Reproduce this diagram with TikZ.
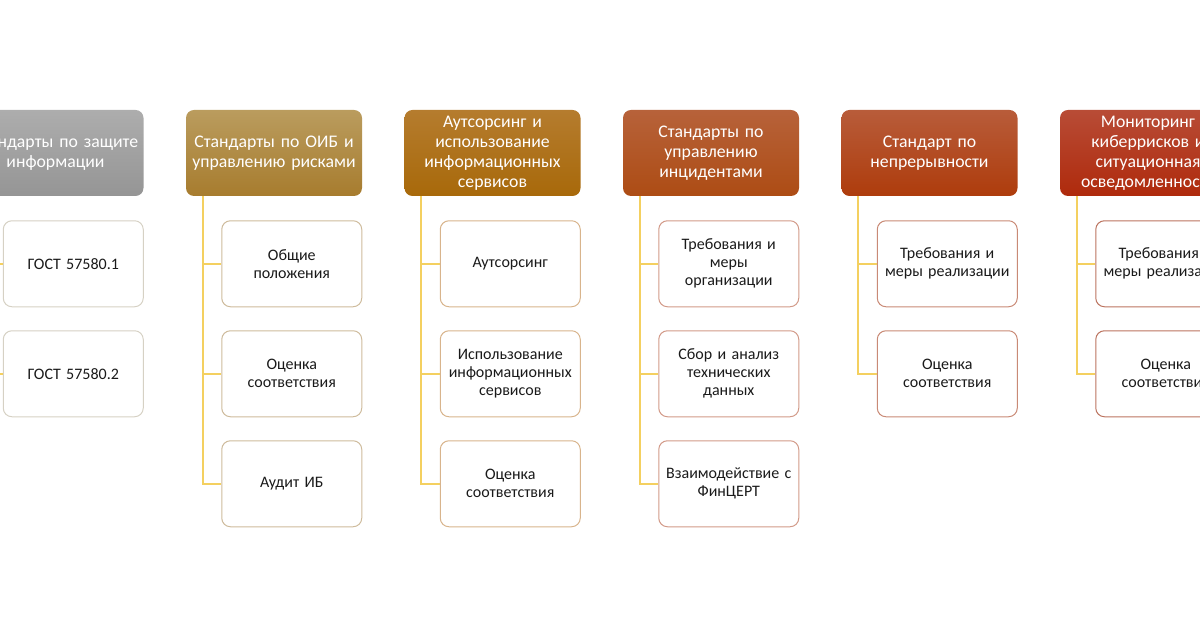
\documentclass[tikz,border=0pt]{standalone}
\usepackage{fontspec}
\setmainfont{Carlito}
\usetikzlibrary{positioning}
\definecolor{linkyellow}{HTML}{F4D060}
\definecolor{leaftext}{HTML}{1A1A1A}
\definecolor{grayTop}{HTML}{ADADAD}
\definecolor{grayBot}{HTML}{959595}
\definecolor{tanTop}{HTML}{BA9C5E}
\definecolor{tanBot}{HTML}{A77C2E}
\definecolor{ochreTop}{HTML}{B57C2E}
\definecolor{ochreBot}{HTML}{A8690A}
\definecolor{rustTop}{HTML}{B7623A}
\definecolor{rustBot}{HTML}{AD4C14}
\definecolor{brickTop}{HTML}{B85C3A}
\definecolor{brickBot}{HTML}{AE3C0C}
\definecolor{redTop}{HTML}{B84C36}
\definecolor{redBot}{HTML}{AF2A0C}
\definecolor{grayLine}{HTML}{D6D1C4}
\definecolor{tanLine}{HTML}{CEBB9C}
\definecolor{ochreLine}{HTML}{D8B48C}
\definecolor{rustLine}{HTML}{D29A88}
\definecolor{brickLine}{HTML}{C98A76}
\definecolor{redLine}{HTML}{BC7460}
\begin{document}
\begin{tikzpicture}[
  header/.style={rounded corners=6pt, minimum width=132pt, minimum height=64.5pt, text width=128pt, align=center, inner sep=1pt, text=white, font=\fontsize{13.3}{15}\selectfont},
  leaf/.style={draw=#1, fill=white, line width=0.75pt, rounded corners=6.5pt, minimum width=105pt, minimum height=64.5pt, text width=102pt, align=center, inner sep=1pt, text=leaftext, font=\fontsize{12}{13.5}\selectfont},
  link/.style={draw=linkyellow, line width=1.5pt},
]
\useasboundingbox (0,0) rectangle (900pt,472.5pt);
% headers
\node[header, top color=grayTop, bottom color=grayBot] (h1) at (41.625pt,357.75pt) {Стандарты по защите\\информации};
\node[header, top color=tanTop, bottom color=tanBot] (h2) at (205.5pt,357.75pt) {Стандарты по ОИБ и\\управлению рисками};
\node[header, top color=ochreTop, bottom color=ochreBot] (h3) at (369.375pt,357.75pt) {Аутсорсинг и\\использование\\информационных\\сервисов};
\node[header, top color=rustTop, bottom color=rustBot] (h4) at (533.25pt,357.75pt) {Стандарты по\\управлению\\инцидентами};
\node[header, top color=brickTop, bottom color=brickBot] (h5) at (697.125pt,357.75pt) {Стандарт по\\непрерывности};
\node[header, top color=redTop, bottom color=redBot] (h6) at (861pt,357.75pt) {Мониторинг\\киберрисков и\\ситуационная\\осведомленность};
% column 1
\node[leaf=grayLine, below left=18pt and 0pt of h1.south east] (c11) {ГОСТ 57580.1};
\node[leaf=grayLine, below=17.25pt of c11] (c12) {ГОСТ 57580.2};
\draw[link] ([xshift=12.75pt]h1.south west) |- (c11.west);
\draw[link] ([xshift=12.75pt]h1.south west) |- (c12.west);
% column 2
\node[leaf=tanLine, below left=18pt and 0pt of h2.south east] (c21) {Общие\\положения};
\node[leaf=tanLine, below=17.25pt of c21] (c22) {Оценка\\соответствия};
\node[leaf=tanLine, below=17.25pt of c22] (c23) {Аудит ИБ};
\draw[link] ([xshift=12.75pt]h2.south west) |- (c21.west);
\draw[link] ([xshift=12.75pt]h2.south west) |- (c22.west);
\draw[link] ([xshift=12.75pt]h2.south west) |- (c23.west);
% column 3
\node[leaf=ochreLine, below left=18pt and 0pt of h3.south east] (c31) {Аутсорсинг};
\node[leaf=ochreLine, below=17.25pt of c31] (c32) {Использование\\информационных\\сервисов};
\node[leaf=ochreLine, below=17.25pt of c32] (c33) {Оценка\\соответствия};
\draw[link] ([xshift=12.75pt]h3.south west) |- (c31.west);
\draw[link] ([xshift=12.75pt]h3.south west) |- (c32.west);
\draw[link] ([xshift=12.75pt]h3.south west) |- (c33.west);
% column 4
\node[leaf=rustLine, below left=18pt and 0pt of h4.south east] (c41) {Требования и\\меры\\организации};
\node[leaf=rustLine, below=17.25pt of c41] (c42) {Сбор и анализ\\технических\\данных};
\node[leaf=rustLine, below=17.25pt of c42] (c43) {Взаимодействие с\\ФинЦЕРТ};
\draw[link] ([xshift=12.75pt]h4.south west) |- (c41.west);
\draw[link] ([xshift=12.75pt]h4.south west) |- (c42.west);
\draw[link] ([xshift=12.75pt]h4.south west) |- (c43.west);
% column 5
\node[leaf=brickLine, below left=18pt and 0pt of h5.south east] (c51) {Требования и\\меры реализации};
\node[leaf=brickLine, below=17.25pt of c51] (c52) {Оценка\\соответствия};
\draw[link] ([xshift=12.75pt]h5.south west) |- (c51.west);
\draw[link] ([xshift=12.75pt]h5.south west) |- (c52.west);
% column 6
\node[leaf=redLine, below left=18pt and 0pt of h6.south east] (c61) {Требования и\\меры реализации};
\node[leaf=redLine, below=17.25pt of c61] (c62) {Оценка\\соответствия};
\draw[link] ([xshift=12.75pt]h6.south west) |- (c61.west);
\draw[link] ([xshift=12.75pt]h6.south west) |- (c62.west);
\end{tikzpicture}
\end{document}
